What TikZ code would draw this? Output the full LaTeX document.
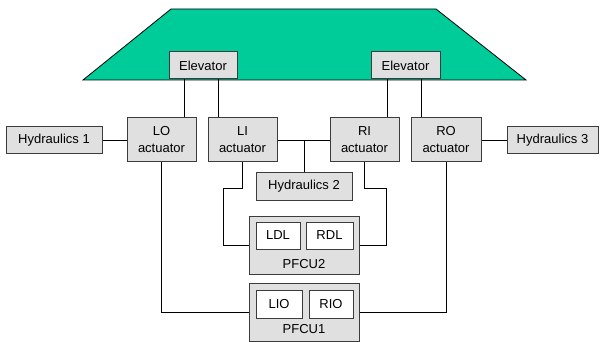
\documentclass[tikz,border=0pt]{standalone}
\usepackage{fontspec}
\setmainfont{Liberation Sans}
\usetikzlibrary{calc}

\definecolor{wing}{RGB}{0,204,153}
\definecolor{boxgray}{RGB}{224,224,224}
\definecolor{edgegray}{RGB}{60,60,60}

\begin{document}
\begin{tikzpicture}[x=1pt,y=-1pt,line width=0.85pt]
\tikzstyle{graybox}=[draw=edgegray,fill=boxgray,line width=1pt,inner sep=0pt,align=center,font=\fontsize{13}{17}\selectfont]
\tikzstyle{whitebox}=[graybox,fill=white]
\useasboundingbox (0,0) rectangle (600,342);
% wing
\filldraw[fill=wing,draw=black,line width=0.8pt] (171,9) -- (436,9) -- (526,80) -- (83,80) -- cycle;
% elevators
\node[graybox,minimum width=68,minimum height=27] (elevl) at (203,65.5) {Elevator};
\node[graybox,minimum width=69,minimum height=27] (elevr) at (405.5,65.5) {Elevator};
% actuators
\node[graybox,minimum width=69,minimum height=44] (lo) at (161.5,140) {LO\\actuator};
\node[graybox,minimum width=69,minimum height=44] (li) at (242.5,140) {LI\\actuator};
\node[graybox,minimum width=69,minimum height=44] (ri) at (364.5,140) {RI\\actuator};
\node[graybox,minimum width=70,minimum height=44] (ro) at (446,140) {RO\\actuator};
% hydraulics
\node[graybox,minimum width=96,minimum height=27] (hyd1) at (54,140.5) {Hydraulics 1};
\node[graybox,minimum width=96,minimum height=27] (hyd2) at (304,186.5) {Hydraulics 2};
\node[graybox,minimum width=91,minimum height=27] (hyd3) at (552.5,140.5) {Hydraulics 3};
% flight control units
\node[graybox,minimum width=110,minimum height=58] (pfcu2) at (304,245) {};
\node[whitebox,minimum width=44,minimum height=27] (ldl) at (278,235.5) {LDL};
\node[whitebox,minimum width=47,minimum height=27] (rdl) at (329.5,235.5) {RDL};
\node[anchor=base,font=\fontsize{13}{17}\selectfont] (pfcu2name) at (304,268) {PFCU2};
\node[graybox,minimum width=110,minimum height=58] (pfcu1) at (304,312) {};
\node[whitebox,minimum width=46,minimum height=28] (lio) at (279,304) {LIO};
\node[whitebox,minimum width=44,minimum height=28] (rio) at (331,304) {RIO};
\node[anchor=base,font=\fontsize{13}{17}\selectfont] (pfcu1name) at (304,333) {PFCU1};
% connections
\draw ($(lo.north east)+(-12,0)$) coordinate (lotop) -- (lotop |- elevl.south);
\draw ($(li.north west)+(11,0)$) coordinate (litop) -- (litop |- elevl.south);
\draw ($(ri.north east)+(-12,0)$) coordinate (ritop) -- (ritop |- elevr.south);
\draw ($(ro.north west)+(11,0)$) coordinate (rotop) -- (rotop |- elevr.south);
\draw (hyd1.east) -- (hyd1.east -| lo.west);
\draw (hyd3.west) -- (hyd3.west -| ro.east);
\draw (li.east) -- (ri.west);
\draw (hyd2.north) -- (hyd2.north |- li.east);
\draw (li.south) -- ++(0,26) -| ($(pfcu2.west)+(-25,0)$) -- (pfcu2.west);
\draw (ri.south) -- ++(0,26) -| ($(pfcu2.east)+(27,0)$) -- (pfcu2.east);
\draw (lo.south) |- (pfcu1.west);
\draw (ro.south) |- (pfcu1.east);
\end{tikzpicture}
\end{document}
